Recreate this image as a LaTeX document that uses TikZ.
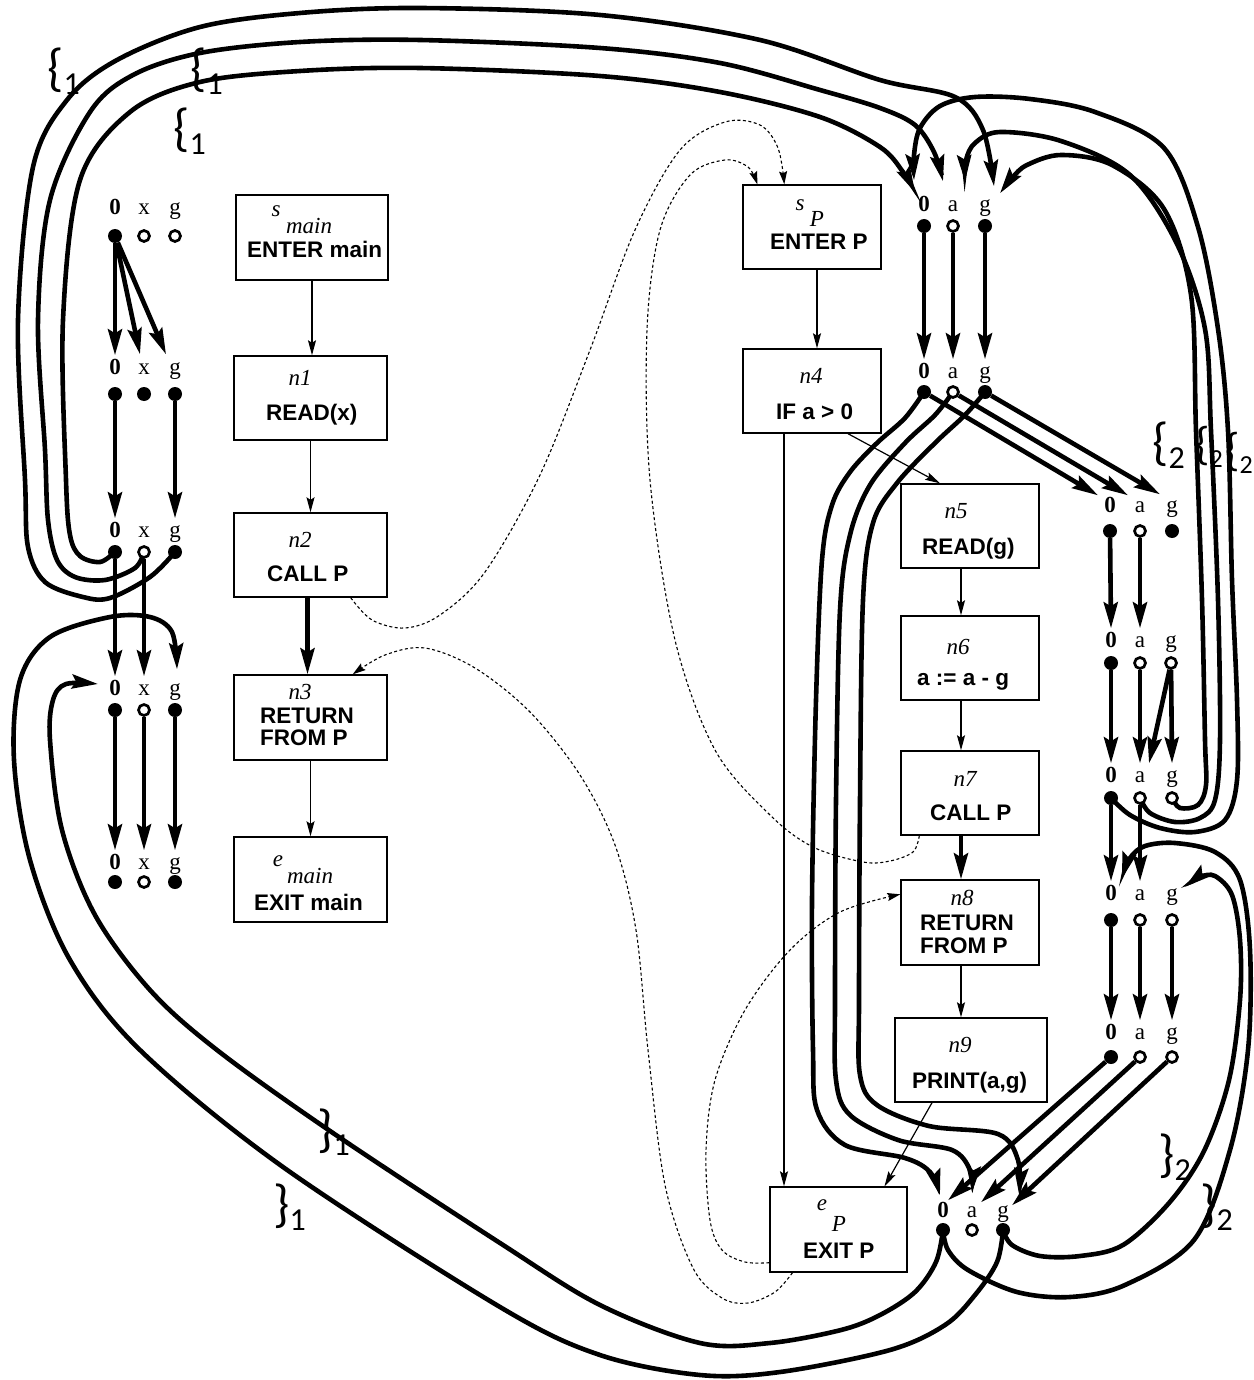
\documentclass[tikz,border=0pt]{standalone}
\usepackage{fontspec}
\setmainfont{Liberation Serif}
\newfontfamily\hvf{Liberation Sans}
\newfontfamily\carlf{Carlito}
\usetikzlibrary{arrows.meta}
\pgfdeclarelayer{edges}
\pgfsetlayers{edges,main}
\newcommand\brlab[2]{#1\raisebox{-9pt}{\fontsize{32}{32}\selectfont #2}}
\newcommand\brlabs[2]{#1\raisebox{-8pt}{\fontsize{26}{26}\selectfont #2}}
\newcommand\varrow[9]{%
  \node[lab] (l#10) at (#5,#3) {\textbf{0}};
  \node[lab] (l#1#2) at (#6,#3) {#2};
  \node[lab] (l#1g) at (#7,#3) {g};
  \node[dotf] (d#10) at (#5,#4) {};
  \node[#8] (d#1#2) at (#6,#4) {};
  \node[#9] (d#1g) at (#7,#4) {};
}
\begin{document}
\begin{tikzpicture}[x=1pt,y=-1pt,
  box/.style={draw, line width=1.4pt, inner sep=0pt},
  btxt/.style={font=\hvf\bfseries\fontsize{22.5}{24}\selectfont, inner sep=0pt, text height=16pt, text depth=0pt, anchor=west},
  itxt/.style={font=\itshape\fontsize{23}{25}\selectfont, inner sep=0pt},
  lab/.style={font=\fontsize{23}{24}\selectfont, inner sep=1pt, text height=15pt, text depth=0pt},
  dotf/.style={circle, fill=black, minimum size=14pt, inner sep=0pt},
  doth/.style={circle, draw=black, line width=2.7pt, fill=white, minimum size=11pt, inner sep=0pt},
  thk/.style={line width=4.6pt},
  ar/.style={thk, -{Stealth[length=26pt,width=14pt,inset=4pt]}},
  cfg/.style={line width=1.2pt, -{Stealth[length=15pt,width=8pt,inset=2.5pt]}},
  cfgthk/.style={line width=4.6pt, -{Stealth[length=26pt,width=14pt,inset=4pt]}},
  dsh/.style={line width=1.1pt, dash pattern=on 3pt off 2.5pt, -{Stealth[length=13pt,width=8pt,inset=2pt]}},
  brl/.style={inner sep=0pt, anchor=base west, font=\carlf\fontsize{52}{52}\selectfont},
  brs/.style={inner sep=0pt, anchor=base west, font=\carlf\fontsize{46}{46}\selectfont},
  sm/.style={smooth, tension=0.55}]
\useasboundingbox (0,0) rectangle (1253,1380);

% ---------- boxes ----------
\node[box,minimum width=152pt,minimum height=85pt] (smain) at (312,237.5) {};
\node[box,minimum width=153pt,minimum height=84pt] (n1) at (310.5,398) {};
\node[box,minimum width=153pt,minimum height=84pt] (n2) at (310.5,555) {};
\node[box,minimum width=153pt,minimum height=85pt] (n3) at (310.5,717.5) {};
\node[box,minimum width=153pt,minimum height=85pt] (emain) at (310.5,879.5) {};
\node[box,minimum width=138pt,minimum height=84pt] (sP) at (812,227) {};
\node[box,minimum width=138pt,minimum height=84pt] (n4) at (812,391) {};
\node[box,minimum width=138pt,minimum height=84pt] (n5) at (970,526) {};
\node[box,minimum width=138pt,minimum height=84pt] (n6) at (970,658) {};
\node[box,minimum width=138pt,minimum height=84pt] (n7) at (970,793) {};
\node[box,minimum width=138pt,minimum height=85pt] (n8) at (970,922.5) {};
\node[box,minimum width=152pt,minimum height=84pt] (n9) at (971,1060) {};
\node[box,minimum width=137pt,minimum height=85pt] (eP) at (838.5,1229.5) {};

% ---------- box texts ----------
\node[itxt] (smain-s) at (276,211) {s};
\node[itxt] (smain-m) at (309,226) {main};
\node[btxt] (smain-t) at (247,250) {ENTER main};
\node[itxt] (n1-l) at (300,378) {n1};
\node[btxt] (n1-t) at (266,412) {READ(x)};
\node[itxt] (n2-l) at (300,540) {n2};
\node[btxt] (n2-t) at (267,573) {CALL P};
\node[itxt] (n3-l) at (300,692) {n3};
\node[btxt] (n3-t) at (260,715) {RETURN};
\node[btxt] (n3-u) at (260,737) {FROM P};
\node[itxt] (emain-e) at (278,861) {e};
\node[itxt] (emain-m) at (310,876) {main};
\node[btxt] (emain-t) at (254,902) {EXIT main};
\node[itxt] (sP-s) at (800,205) {s};
\node[itxt] (sP-p) at (817,219) {P};
\node[btxt] (sP-t) at (770,242) {ENTER P};
\node[itxt] (n4-l) at (811,376) {n4};
\node[btxt] (n4-t) at (776,411) {IF a > 0};
\node[itxt] (n5-l) at (956,511) {n5};
\node[btxt] (n5-t) at (922,546) {READ(g)};
\node[itxt] (n6-l) at (958,647) {n6};
\node[btxt] (n6-t) at (917,677) {a := a - g};
\node[itxt] (n7-l) at (965,779) {n7};
\node[btxt] (n7-t) at (930,812) {CALL P};
\node[itxt] (n8-l) at (962,898) {n8};
\node[btxt] (n8-t) at (920,922) {RETURN};
\node[btxt] (n8-u) at (920,945) {FROM P};
\node[itxt] (n9-l) at (960,1045) {n9};
\node[btxt] (n9-t) at (912,1080) {PRINT(a,g)};
\node[itxt] (eP-e) at (822,1205) {e};
\node[itxt] (eP-p) at (839,1224) {P};
\node[btxt] (eP-t) at (803,1250) {EXIT P};

% ---------- variable rows ----------
\varrow{A}{x}{207}{236}{115}{144}{175}{doth}{doth}
\varrow{B}{x}{367}{394}{115}{144}{175}{dotf}{dotf}
\varrow{C}{x}{530}{552}{115}{144}{175}{doth}{dotf}
\varrow{D}{x}{688}{710}{115}{144}{175}{doth}{dotf}
\varrow{E}{x}{862}{882}{115}{144}{175}{doth}{dotf}
\varrow{P}{a}{204}{226}{924}{953}{985}{doth}{dotf}
\varrow{Q}{a}{371}{392}{924}{953}{985}{doth}{dotf}
\varrow{R}{a}{505}{531}{1110}{1140}{1172}{doth}{dotf}
\varrow{S}{a}{640}{663}{1111}{1140}{1171}{doth}{doth}
\varrow{T}{a}{775}{798}{1111}{1140}{1172}{doth}{doth}
\varrow{U}{a}{893}{920}{1111}{1140}{1172}{doth}{doth}
\varrow{V}{a}{1032}{1057}{1111}{1140}{1172}{doth}{doth}
\varrow{W}{a}{1210}{1230}{943}{972}{1003}{doth}{dotf}

% ---------- brace labels ----------
\node[brl] (b1) at (47,86) {\brlab{\{}{1}};
\node[brl] (b2) at (190,86) {\brlab{\{}{1}};
\node[brl] (b3) at (173,146) {\brlab{\{}{1}};
\node[brl] (b4) at (1152,459) {\brlab{\{}{2}};
\node[brs] (b5) at (1195,459) {\brlabs{\{}{2}};
\node[brs] (b6) at (1225,465) {\brlabs{\{}{2}};
\node[brl] (b7) at (1158,1171) {\brlab{\}}{2}};
\node[brl] (b8) at (1200,1221) {\brlab{\}}{2}};
\node[brl] (b9) at (317,1146) {\brlab{\}}{1}};
\node[brl] (b10) at (273,1221) {\brlab{\}}{1}};

% ---------- tip coordinates ----------
\coordinate (tP0i) at ([xshift=-9pt,yshift=3pt]lP0.north);
\coordinate (tPam) at ([xshift=-10pt,yshift=14pt]lPa.north);
\coordinate (tPgo) at ([xshift=9pt,yshift=9pt]lPg.north);
\coordinate (tP0r) at ([xshift=-10pt,yshift=15pt]lP0.north);
\coordinate (tPar) at ([xshift=12pt,yshift=14pt]lPa.north);
\coordinate (tPgr) at ([xshift=15pt,yshift=2pt]lPg.north);
\coordinate (tD0) at ([xshift=-10pt,yshift=4pt]lD0.west);
\coordinate (tDg) at ([xshift=2pt,yshift=10pt]lDg.north);
\coordinate (tW0) at ([xshift=-3pt,yshift=6pt]lW0.north);
\coordinate (tWa) at ([yshift=9pt]lWa.north);
\coordinate (tWg) at ([xshift=16pt,yshift=7pt]lWg.north);
\coordinate (tU0) at ([xshift=11pt,yshift=6pt]lU0.north);
\coordinate (tUg) at ([xshift=6pt,yshift=6pt]lUg.east);
\coordinate (s1) at ([xshift=-37pt]n2.south east);
\coordinate (e1) at ([xshift=42pt]sP.north west);
\coordinate (s2) at ([xshift=19pt]n7.south west);
\coordinate (e2) at ([xshift=15pt]sP.north west);
\coordinate (s3) at ([xshift=-46pt]eP.south);
\coordinate (e3) at ([xshift=-35pt]n3.north east);
\coordinate (s4) at ([yshift=10pt]eP.south west);
\coordinate (e4) at ([yshift=-15pt]n8.north west);

\begin{pgfonlayer}{edges}
% ---------- CFG edges ----------
\draw[cfg] (smain.south) -- (smain.south |- n1.north);
\draw[cfg] (n1.south) -- (n1.south |- n2.north);
\draw[cfgthk] ([xshift=-3pt]n2.south) -- ([xshift=-3pt]n3.north);
\draw[cfg] (n3.south) -- (n3.south |- emain.north);
\draw[cfg] ([xshift=5pt]sP.south) -- ([xshift=5pt]sP.south |- n4.north);
\draw[cfg] ([xshift=36pt]n4.south) -- ([xshift=-30pt]n5.north);
\draw[cfg] ([xshift=-28pt]n4.south) -- ([xshift=-28pt]n4.south |- eP.north);
\draw[cfg] ([xshift=-9pt]n5.south) -- ([xshift=-9pt]n6.north);
\draw[cfg] ([xshift=-9pt]n6.south) -- ([xshift=-9pt]n7.north);
\draw[cfgthk] ([xshift=-9pt]n7.south) -- ([xshift=-9pt]n8.north);
\draw[cfg] ([xshift=-9pt]n8.south) -- ([xshift=-9pt]n8.south |- n9.north);
\draw[cfg] ([xshift=-39pt]n9.south) -- ([xshift=46pt]eP.north);

% ---------- dashed call/return edges ----------
\draw[dsh] plot[sm] coordinates {(s1) (372,620) (405,628) (440,615) (485,572) (540,475) (590,350) (635,230) (680,150) (725,122) (760,125) (778,148) (e1)};
\draw[dsh] plot[sm] coordinates {(s2) (913,852) (890,861) (863,862) (813,847) (770,815) (715,750) (675,640) (650,480) (647,330) (660,230) (690,175) (725,160) (748,167) (e2)};
\draw[dsh] plot[sm] coordinates {(s3) (775,1292) (748,1303) (722,1298) (693,1268) (665,1185) (648,1050) (636,930) (615,845) (580,775) (530,712) (475,668) (425,648) (385,655) (e3)};
\draw[dsh] plot[sm] coordinates {(s4) (745,1262) (722,1250) (710,1220) (706,1150) (715,1080) (745,1010) (790,950) (840,912) (e4)};

% ---------- main: straight flow ----------
\draw[ar] (dA0) -- ([yshift=3pt]lB0.north);
\draw[ar] (dA0) -- ([xshift=-4pt,yshift=4pt]lBx.north);
\draw[ar] (dA0) -- ([xshift=-9pt,yshift=4pt]lBg.north);
\draw[ar] (dB0) -- ([yshift=3pt]lC0.north);
\draw[ar] (dBg) -- ([yshift=3pt]lCg.north);
\draw[ar] (dC0) -- ([yshift=3pt]lD0.north);
\draw[ar] (dCx) -- ([yshift=3pt]lDx.north);
\draw[ar] (dD0) -- ([yshift=3pt]lE0.north);
\draw[ar] (dDx) -- ([yshift=3pt]lEx.north);
\draw[ar] (dDg) -- ([yshift=3pt]lEg.north);

% ---------- P: straight flow ----------
\draw[ar] (dP0) -- ([yshift=3pt]lQ0.north);
\draw[ar] (dPa) -- ([yshift=3pt]lQa.north);
\draw[ar] (dPg) -- ([yshift=3pt]lQg.north);
\draw[ar] (dQ0) -- ([xshift=-12pt,yshift=1pt]lR0.north);
\draw[ar] (dQa) -- ([xshift=-12pt,yshift=1pt]lRa.north);
\draw[ar] (dQg) -- ([xshift=-12pt,yshift=2pt]lRg.north);
\draw[ar] (dR0) -- ([yshift=3pt]lS0.north);
\draw[ar] (dRa) -- ([yshift=3pt]lSa.north);
\draw[ar] (dS0) -- ([yshift=3pt]lT0.north);
\draw[ar] (dSa) -- ([yshift=3pt]lTa.north);
\draw[ar] (dSg) -- ([xshift=9pt,yshift=3pt]lTa.north);
\draw[ar] (dSg) -- ([yshift=3pt]lTg.north);
\draw[ar] (dT0) -- ([yshift=3pt]lU0.north);
\draw[ar] (dTa) -- ([yshift=3pt]lUa.north);
\draw[ar] (dU0) -- ([yshift=3pt]lV0.north);
\draw[ar] (dUa) -- ([yshift=3pt]lVa.north);
\draw[ar] (dUg) -- ([yshift=3pt]lVg.north);
\draw[ar] (dV0) -- ([xshift=5pt,yshift=1pt]lW0.north);
\draw[ar] (dVa) -- ([xshift=9pt,yshift=-1pt]lWa.north);
\draw[ar] (dVg) -- ([xshift=9pt,yshift=-4pt]lWg.north);

% ---------- call bindings main -> P ----------
\draw[ar] plot[sm] coordinates {(dC0) (100,562) (80,556) (70,535) (66,480) (63,320) (80,180) (130,112) (200,82) (300,71) (420,68) (600,76) (720,92) (820,117) (880,147) (903,172) (tP0i)};
\draw[ar] plot[sm] coordinates {(dCx) (135,568) (105,580) (75,577) (57,560) (48,520) (45,450) (38,320) (50,200) (90,112) (133,75) (200,53) (300,42) (420,40) (600,48) (720,63) (820,90) (880,108) (915,125) (934,152) (tPam)};
\draw[ar] plot[sm] coordinates {(dCg) (150,577) (110,598) (83,597) (45,582) (28,547) (25,480) (18,320) (33,167) (67,100) (117,60) (200,27) (300,13) (420,8) (600,15) (760,40) (880,80) (955,97) (983,130) (tPgo)};

% ---------- return bindings P -> main ----------
\draw[ar] plot[sm] coordinates {(dW0) (936,1262) (915,1292) (880,1315) (841,1330) (770,1343) (700,1343) (600,1305) (500,1243) (333,1133) (217,1050) (150,990) (95,915) (62,830) (50,740) (53,700) (66,684) (tD0)};
\draw[ar] plot[sm] coordinates {(dWg) (997,1262) (975,1295) (945,1325) (890,1350) (780,1372) (700,1375) (600,1355) (500,1307) (283,1167) (140,1050) (70,960) (30,860) (14,760) (20,680) (50,637) (110,617) (150,617) (172,632) (tDg)};

% ---------- n4 -> exit P (long left curves) ----------
\draw[ar] plot[sm] coordinates {(dQ0) (905,418) (877,443) (850,472) (832,505) (822,560) (816,700) (812,900) (813,1050) (817,1110) (845,1145) (905,1158) (930,1172) (tW0)};
\draw[ar] plot[sm] coordinates {(dQa) (935,415) (905,443) (870,485) (850,535) (840,610) (836,800) (835,1000) (836,1080) (850,1115) (898,1140) (952,1150) (970,1170) (tWa)};
\draw[ar] plot[sm] coordinates {(dQg) (965,415) (935,443) (897,483) (873,523) (863,600) (860,800) (859,1000) (860,1075) (877,1105) (929,1126) (998,1134) (1018,1160) (tWg)};

% ---------- recursive call n7 -> enter P ----------
\draw[ar] plot[sm] coordinates {(dT0) (1130,815) (1160,828) (1195,832) (1225,820) (1237,780) (1237,700) (1232,580) (1228,431) (1218,329) (1198,227) (1164,148) (1095,112) (1030,99) (975,97) (940,106) (920,128) (914,155) (tP0r)};
\draw[ar] plot[sm] coordinates {(dTa) (1150,813) (1175,822) (1200,818) (1215,800) (1220,740) (1218,600) (1211,431) (1205,329) (1177,244) (1130,175) (1061,141) (1000,132) (975,143) (966,160) (tPar)};
\draw[ar] plot[sm] coordinates {(dTg) (1180,808) (1198,805) (1206,785) (1205,740) (1202,600) (1196,431) (1191,295) (1164,209) (1112,165) (1061,155) (1027,165) (1012,178) (tPgr)};

% ---------- return exit P -> n8 ----------
\draw[ar] plot[sm] coordinates {(dW0) (948,1250) (968,1270) (1017,1292) (1070,1297) (1125,1285) (1194,1240) (1230,1150) (1248,1050) (1250,950) (1240,880) (1215,852) (1175,843) (1145,846) (1130,858) (tU0)};
\draw[ar] plot[sm] coordinates {(dWg) (1012,1245) (1040,1256) (1080,1256) (1123,1245) (1169,1203) (1204,1151) (1229,1080) (1240,1000) (1240,940) (1232,895) (1215,876) (1200,877) (tUg)};
\end{pgfonlayer}
\end{tikzpicture}
\end{document}
